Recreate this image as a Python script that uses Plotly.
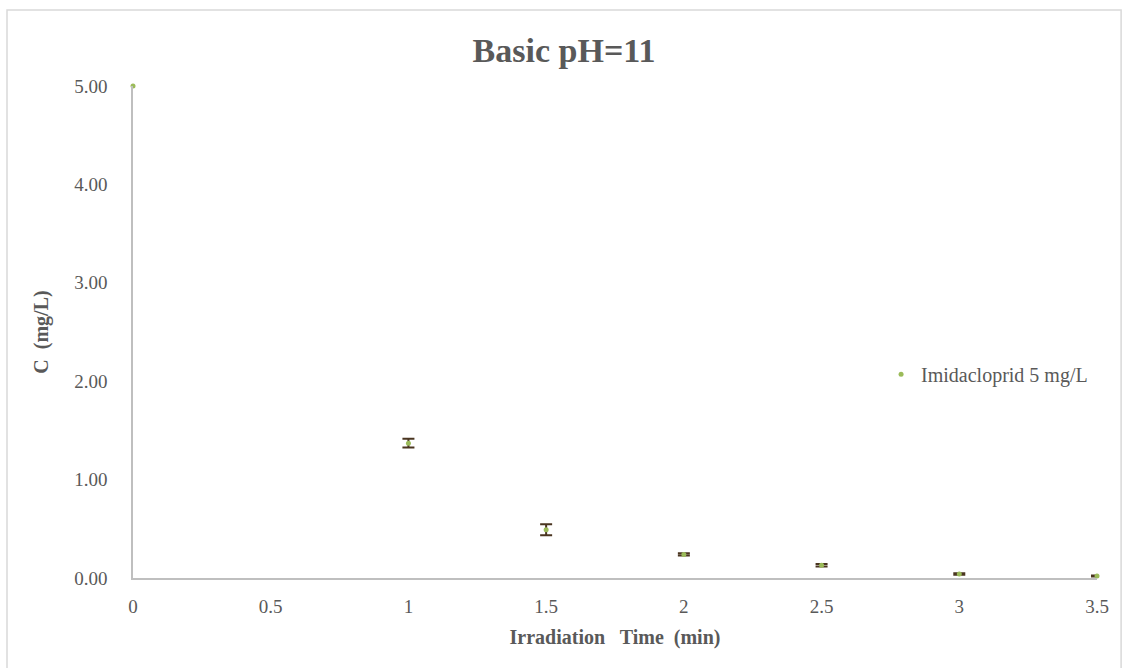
import plotly.graph_objects as go

# Irradiation time (min) and measured concentration (mg/L)
time_min = [0, 1, 1.5, 2, 2.5, 3, 3.5]
conc_mg_l = [5.00, 1.37, 0.49, 0.24, 0.13, 0.04, 0.02]
conc_err = [0.0, 0.045, 0.056, 0.012, 0.012, 0.008, 0.006]

x_ticks = [0, 0.5, 1, 1.5, 2, 2.5, 3, 3.5]
x_tick_text = ["0", "0.5", "1", "1.5", "2", "2.5", "3", "3.5"]
y_ticks = [0, 1, 2, 3, 4, 5]
y_tick_text = ["0.00", "1.00", "2.00", "3.00", "4.00", "5.00"]

SERIF = "Liberation Serif, Times New Roman, serif"
GREY = "#595959"

# points that carry a non-zero error bar
err_idx = [i for i, e in enumerate(conc_err) if e > 0]

fig = go.Figure()
fig.add_trace(go.Scatter(
    x=[time_min[i] for i in err_idx],
    y=[conc_mg_l[i] for i in err_idx],
    mode="markers",
    showlegend=False,
    hoverinfo="skip",
    marker=dict(color="rgba(0,0,0,0)", size=5),
    error_y=dict(type="data", array=[conc_err[i] for i in err_idx],
                 visible=True, color="#4a3520", thickness=2, width=6),
    cliponaxis=False,
))
fig.add_trace(go.Scatter(
    x=time_min,
    y=conc_mg_l,
    mode="markers",
    name="Imidacloprid 5 mg/L",
    marker=dict(color="#9bbb59", size=5),
    cliponaxis=False,
))

fig.update_layout(
    width=1128,
    height=668,
    margin=dict(l=133, r=31, t=86, b=90),
    paper_bgcolor="white",
    plot_bgcolor="white",
    font=dict(family=SERIF, color=GREY, size=18),
    title=dict(text="<b>Basic pH=11</b>", x=0.5, xanchor="center",
               y=0.925, yanchor="middle",
               font=dict(family=SERIF, size=34, color=GREY)),
    showlegend=True,
    legend=dict(x=0.776, y=0.414, xanchor="left", yanchor="middle",
                font=dict(family=SERIF, size=20, color=GREY),
                bgcolor="rgba(0,0,0,0)", itemwidth=30),
    xaxis=dict(
        range=[0, 3.5], tickvals=x_ticks, ticktext=x_tick_text,
        showgrid=False, zeroline=False, showline=True,
        linecolor="#bfbfbf", linewidth=1.5, ticks="",
        ticklabelstandoff=10,
        tickfont=dict(family=SERIF, size=19, color=GREY),
        title=dict(text="<b>Irradiation   Time  (min)</b>", standoff=14,
                   font=dict(family=SERIF, size=20, color=GREY)),
    ),
    yaxis=dict(
        range=[0, 5], tickvals=y_ticks, ticktext=y_tick_text,
        showgrid=False, zeroline=False, showline=True,
        linecolor="#bfbfbf", linewidth=1.5, ticks="",
        ticklabelstandoff=20,
        tickfont=dict(family=SERIF, size=19, color=GREY),
        title=dict(text="<b>C  (mg/L)</b>", standoff=20,
                   font=dict(family=SERIF, size=20, color=GREY)),
    ),
)

# Outer chart-area frame
fig.add_shape(type="rect", xref="paper", yref="paper",
              x0=-0.1307, x1=1.025, y0=-0.2, y1=1.1545,
              line=dict(color="#d9d9d9", width=1.5), layer="below")

fig.write_html("out.html")
